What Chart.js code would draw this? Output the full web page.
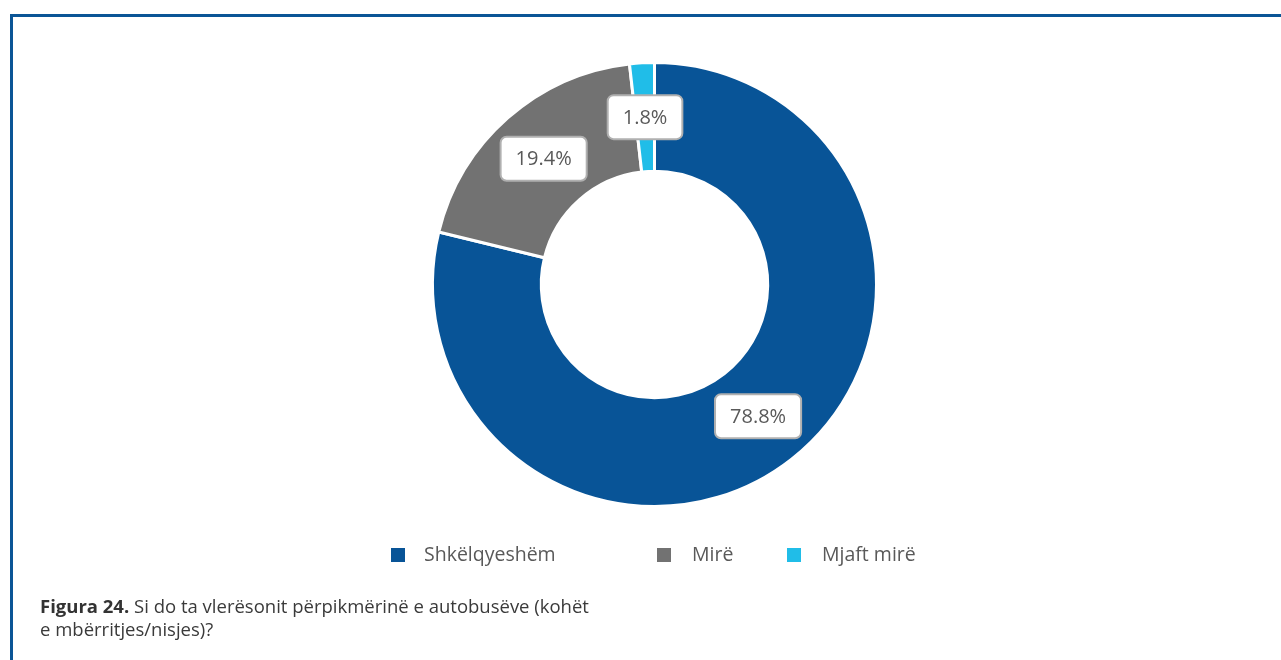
<!DOCTYPE html>
<html>
<head>
<meta charset="utf-8">
<script src="https://cdn.jsdelivr.net/npm/chart.js@4/dist/chart.umd.min.js"></script>
<style>
  html, body { margin: 0; padding: 0; background: #fff; }
  #wrap { position: relative; width: 1281px; height: 660px; overflow: hidden; }
  #frame {
    position: absolute; left: 10px; top: 14px; right: -10px; bottom: -10px;
    border-top: 3px solid #0b5596; border-left: 3px solid #0b5596;
  }
  #chart { position: absolute; left: 0; top: 0; }
  #caption {
    position: absolute; left: 40px; top: 594px; width: 640px;
    font-family: "Open Sans", sans-serif; font-size: 18.5px; line-height: 23px; color: #3a3a3a;
  }
  #caption b { color: #333; }
</style>
</head>
<body>
<div id="wrap">
  <div id="frame"></div>
  <canvas id="chart" width="1281" height="660"></canvas>
  <div id="caption"><b>Figura 24.</b> Si do ta vlerësonit përpikmërinë e autobusëve (kohët<br>e mbërritjes/nisjes)?</div>
</div>
<script>
const categories = ['Shkëlqyeshëm', 'Mirë', 'Mjaft mirë'];
const shares = [78.8, 19.4, 1.8];
const colors = ['#085497', '#727272', '#20bde8'];

// legend item x positions (square left edge) and text start
const legendX = [391, 657, 787];
const legendTextX = [424, 692, 822];

// white rounded boxes with the value in the middle of each arc
const valueBoxes = {
  id: 'valueBoxes',
  afterDatasetsDraw(chart) {
    const ctx = chart.ctx;
    const meta = chart.getDatasetMeta(0);
    ctx.save();
    ctx.font = '20px "Open Sans", sans-serif';
    ctx.textAlign = 'center';
    ctx.textBaseline = 'middle';
    meta.data.forEach((arc, i) => {
      const p = arc.tooltipPosition();
      const text = shares[i].toFixed(1) + '%';
      const w = ctx.measureText(text).width + 30;
      const h = 44;
      ctx.beginPath();
      ctx.roundRect(p.x - w / 2, p.y - h / 2, w, h, 6);
      ctx.fillStyle = '#fff';
      ctx.fill();
      ctx.lineWidth = 2;
      ctx.strokeStyle = '#b0b0b0';
      ctx.stroke();
      ctx.fillStyle = '#595959';
      ctx.fillText(text, p.x, p.y + 1);
    });
    ctx.restore();
  }
};

const boxLegend = {
  id: 'boxLegend',
  afterDraw(chart) {
    const ctx = chart.ctx;
    const ds = chart.data.datasets[0];
    ctx.save();
    ctx.font = '19.5px "Open Sans", sans-serif';
    ctx.textBaseline = 'middle';
    chart.data.labels.forEach((label, i) => {
      ctx.fillStyle = ds.backgroundColor[i];
      ctx.fillRect(legendX[i], 548, 14, 14);
      ctx.fillStyle = '#595959';
      ctx.fillText(label, legendTextX[i], 555);
    });
    ctx.restore();
  }
};

new Chart(document.getElementById('chart'), {
  type: 'doughnut',
  data: {
    labels: categories,
    datasets: [{
      data: shares,
      backgroundColor: colors,
      borderColor: '#ffffff',
      borderWidth: 3
    }]
  },
  options: {
    responsive: false,
    animation: false,
    cutout: '51%',
    layout: { padding: { left: 431, right: 403, top: 61, bottom: 152 } },
    plugins: {
      legend: { display: false },
      tooltip: { enabled: false }
    }
  },
  plugins: [valueBoxes, boxLegend]
});
</script>
</body>
</html>
